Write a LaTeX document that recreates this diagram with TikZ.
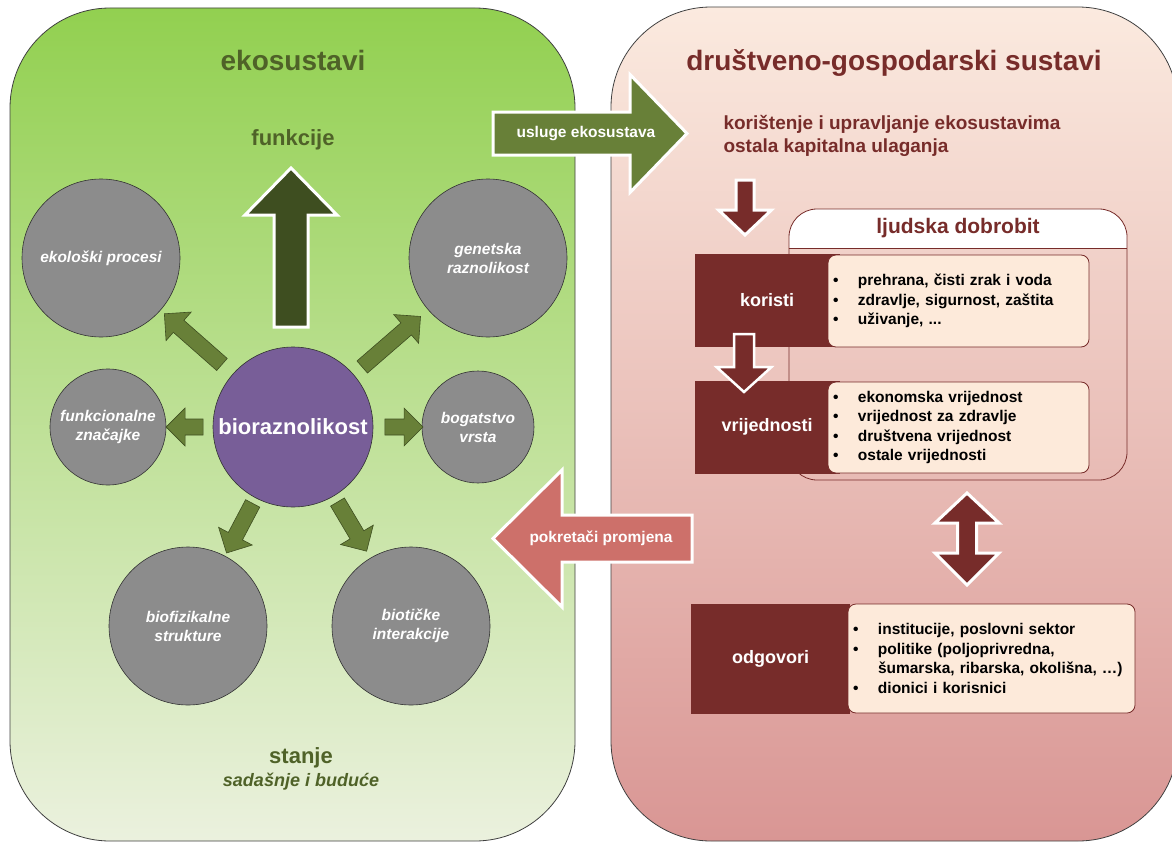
\documentclass[tikz,border=0pt]{standalone}
\usepackage{fontspec}
\setmainfont{Liberation Sans}
\usetikzlibrary{calc}

\definecolor{ekozelena}{RGB}{146,208,80}
\definecolor{ekosvijetla}{RGB}{235,241,222}
\definecolor{tamnozelena}{RGB}{79,98,40}
\definecolor{maslina}{RGB}{104,128,56}
\definecolor{strelica}{RGB}{62,78,32}
\definecolor{tamnocrvena}{RGB}{119,44,42}
\definecolor{breskva}{RGB}{251,234,223}
\definecolor{ruza}{RGB}{217,150,148}
\definecolor{koraljna}{RGB}{205,112,106}
\definecolor{siva}{RGB}{140,140,140}
\definecolor{ljubicasta}{RGB}{120,94,152}
\definecolor{listapozadina}{RGB}{253,234,218}

\newcommand\blockarr[6]{%
  \coordinate (ba-h) at ($(#3)!#6!(#2)$);
  \draw[#1] ($(#2)!#4!90:(#3)$) -- ($(ba-h)!#4!90:(#3)$) -- ($(ba-h)!#5!90:(#3)$) -- (#3)
    -- ($(ba-h)!#5!-90:(#3)$) -- ($(ba-h)!#4!-90:(#3)$) -- ($(#2)!#4!-90:(#3)$) -- cycle;
}
\newcommand\stavka[1]{\makebox[25pt][l]{\textbullet}#1}

\begin{document}
\begin{tikzpicture}[x=1pt, y=-1pt,
  panel/.style={draw=black!75, line width=0.8pt, rounded corners=100pt, inner sep=0pt},
  krug/.style={circle, draw=black!80, line width=0.6pt, fill=siva, minimum size=158pt, inner sep=0pt, text=white, font=\fontsize{15.5}{19}\selectfont\bfseries\itshape, align=center},
  malastrelica/.style={fill=maslina, draw=strelica, line width=0.6pt},
  bijelirub/.style={draw=white, line width=3pt},
  oznaka/.style={fill=tamnocrvena, minimum width=145pt, minimum height=93pt, inner sep=0pt, text=white, font=\fontsize{18}{20}\selectfont\bfseries},
  popis/.style={draw=tamnocrvena, line width=0.8pt, fill=listapozadina, rounded corners=8pt, inner xsep=5pt, inner ysep=0pt, align=left, font=\fontsize{15.5}{19.5}\selectfont\bfseries}
]
\useasboundingbox (0,0) rectangle (1172,843);

\node[panel, top color=ekozelena, bottom color=ekosvijetla, minimum width=565pt, minimum height=833pt] (eko) at (292.5,424.5) {};
\node[panel, top color=breskva, bottom color=ruza, minimum width=567pt, minimum height=834pt] (drustvo) at (894.5,424) {};

\node[text=tamnozelena, font=\fontsize{28}{30}\selectfont\bfseries] (ekonaslov) at (293,60) {ekosustavi};
\node[text=tamnocrvena, font=\fontsize{28}{30}\selectfont\bfseries] (drustvonaslov) at (894,63) {društveno-gospodarski sustavi};
\node[text=tamnozelena, font=\fontsize{22}{24}\selectfont\bfseries] (funkcije) at (293,140) {funkcije};

\node[krug] (ekoloski) at (101,258) {ekološki procesi};
\node[krug] (genetska) at (488,258) {genetska\\raznolikost};
\node[krug, minimum size=116pt] (funkc) at (108,427) {funkcionalne\\značajke};
\node[krug, fill=ljubicasta, minimum size=160pt, font=\fontsize{22}{24}\selectfont\bfseries] (bio) at (293,427) {bioraznolikost};
\node[krug, minimum size=112pt] (bogatstvo) at (478,427) {bogatstvo\\vrsta};
\node[krug] (biofiz) at (188,626) {biofizikalne\\strukture};
\node[krug] (biotic) at (411,626) {biotičke\\interakcije};

\foreach \cilj/\pocetak/\kraj in {ekoloski/0.37/0.67, genetska/0.355/0.654, funkc/0.486/0.686, bogatstvo/0.497/0.703, biofiz/0.384/0.633, biotic/0.377/0.624}{
  \coordinate (rep) at ($(bio)!\pocetak!(\cilj)$);
  \coordinate (vrh) at ($(bio)!\kraj!(\cilj)$);
  \blockarr{malastrelica}{rep}{vrh}{8pt}{19pt}{19pt}
}

\coordinate (fdno) at (291,327);
\coordinate (fvrh) at (291,168);
\blockarr{fill=strelica, bijelirub}{fdno}{fvrh}{17pt}{46pt}{47pt}

\node[text=tamnozelena, font=\fontsize{22}{24}\selectfont\bfseries] (stanje) at (301,758) {stanje};
\node[text=tamnozelena, font=\fontsize{18}{20}\selectfont\bfseries\itshape] (buduce) at (301,782) {sadašnje i buduće};

\coordinate (urep) at (493,133.5);
\coordinate (uvrh) at (687,133.5);
\blockarr{fill=maslina, bijelirub}{urep}{uvrh}{21.5pt}{59pt}{57pt}
\node[text=white, font=\fontsize{15.5}{17}\selectfont\bfseries] (usluge) at (586,133.5) {usluge ekosustava};

\coordinate (prep) at (692,538.5);
\coordinate (pvrh) at (493,538.5);
\blockarr{fill=koraljna, bijelirub}{prep}{pvrh}{23.5pt}{68.5pt}{69pt}
\node[text=white, font=\fontsize{15.5}{17}\selectfont\bfseries] (pokretaci) at (601,538.5) {pokretači promjena};

\node[anchor=west, text=tamnocrvena, font=\fontsize{19}{23}\selectfont\bfseries, align=left] (koristenje) at (720,135.5) {korištenje i upravljanje ekosustavima\\ostala kapitalna ulaganja};

\coordinate (krep) at (745,180);
\coordinate (kvrh) at (745,235);
\blockarr{fill=tamnocrvena, bijelirub}{krep}{kvrh}{9pt}{26.5pt}{25pt}

\begin{scope}
  \clip (789,209) rectangle (1127,248);
  \fill[white, rounded corners=28pt] (789,209) rectangle (1127,480);
\end{scope}
\node[draw=tamnocrvena, line width=0.8pt, rounded corners=28pt, minimum width=338pt, minimum height=271pt, inner sep=0pt] (dobrobit) at (958,344.5) {};
\coordinate (crta) at (0,248);
\draw[tamnocrvena, line width=0.8pt] (dobrobit.west |- crta) -- (dobrobit.east |- crta);
\node[text=tamnocrvena, font=\fontsize{21}{23}\selectfont\bfseries] (dobrobitnaslov) at (958,228.5) {ljudska dobrobit};

\node[oznaka] (koristi) at (767,300) {koristi};
\node[oznaka] (vrijednosti) at (767,427) {vrijednosti};
\node[oznaka, minimum width=159pt, minimum height=110pt] (odgovori) at (770.5,659) {odgovori};

\node[popis, minimum width=261pt, minimum height=92pt, text width=251pt] (koristipopis) at (958.5,301) {\stavka{prehrana, čisti zrak i voda}\\\stavka{zdravlje, sigurnost, zaštita}\\\stavka{uživanje, ...}};
\node[popis, minimum width=261pt, minimum height=91pt, text width=251pt] (vrijednostipopis) at (958.5,427.5) {\stavka{ekonomska vrijednost}\\\stavka{vrijednost za zdravlje}\\\stavka{društvena vrijednost}\\\stavka{ostale vrijednosti}};
\node[popis, minimum width=287pt, minimum height=109pt, text width=277pt] (odgovoripopis) at (991.5,658.5) {\stavka{institucije, poslovni sektor}\\\stavka{politike (poljoprivredna,}\\\hspace*{25pt}šumarska, ribarska, okolišna, …)\\\stavka{dionici i korisnici}};

\coordinate (vrep) at (744,334);
\coordinate (vvrh) at (744,392);
\blockarr{fill=tamnocrvena, bijelirub, line width=2.5pt}{vrep}{vvrh}{10pt}{27.5pt}{25pt}

\draw[fill=tamnocrvena, bijelirub] (967,493) -- (999,523) -- (976.5,523) -- (976.5,553) -- (999,553) -- (967,585) -- (935,553) -- (957.5,553) -- (957.5,523) -- (935,523) -- cycle;
\end{tikzpicture}
\end{document}
